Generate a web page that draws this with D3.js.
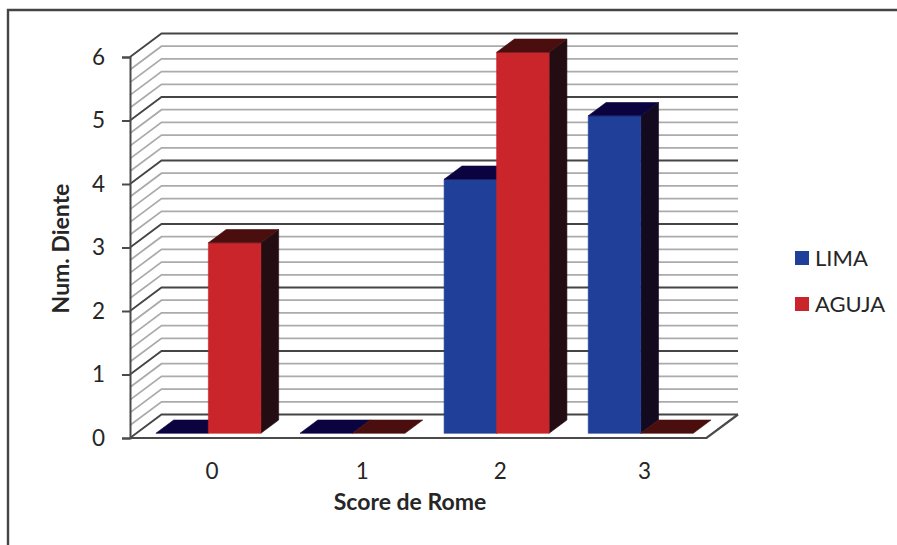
<!DOCTYPE html>
<html>
<head>
<meta charset="utf-8">
<script src="https://cdn.jsdelivr.net/npm/d3@7/dist/d3.min.js"></script>
<style>
  html, body { margin: 0; padding: 0; background: #fff; }
  svg { display: block; font-family: Lato, "Open Sans", sans-serif; }
</style>
</head>
<body>
<svg id="chart" width="897" height="545"></svg>
<script>
// Chart data
const categories = ["0", "1", "2", "3"];
const lima = [0, 0, 4, 5];
const aguja = [3, 0, 6, 0];
const seriesNames = ["LIMA", "AGUJA"];
const yTicks = [0, 1, 2, 3, 4, 5, 6];
const minorPerUnit = 5;
const xTitle = "Score de Rome";
const yTitle = "Num. Diente";

const palette = {
  LIMA: { front: "#1f3f98", top: "#0b0340", side: "#140a1f" },
  AGUJA: { front: "#c9252b", top: "#4a0e0e", side: "#230d12" }
};
const gridMajor = "#454545", gridMinor = "#ababab", axisColor = "#4a4a4a";
const inkColor = "#262626";

const svg = d3.select("#chart");

// Outer frame, open on the right and bottom edges
svg.append("path")
  .attr("d", "M897,10 H8 V545")
  .attr("fill", "none").attr("stroke", "#444").attr("stroke-width", 2.4);

// Oblique projection: depth t runs from the front plane (0) to the back wall (1)
const depthX = 31.5, depthY = -23.5;
const x = d3.scaleBand().domain(categories).range([130, 706.5]);
const y = d3.scaleLinear().domain([0, 6]).range([438, 57]);
const project = (px, py, t) => [px + depthX * t, py + depthY * t];
const polyline = pts => "M" + pts.map(p => p.join(",")).join("L");

// Wall gridlines: five divisions per unit, the whole numbers darker
const gridValues = d3.range(0, yTicks[yTicks.length - 1] * minorPerUnit + 1).map(i => i / minorPerUnit);
const isMajor = v => Number.isInteger(v);
const grid = svg.append("g").attr("fill", "none");
gridValues.slice().sort((a, b) => isMajor(a) - isMajor(b)).forEach(v => {
  const a = [x.range()[0], y(v)];
  const b = project(a[0], a[1], 1);
  const c = [x.range()[1] + depthX, b[1]];
  grid.append("path")
    .attr("d", polyline([a, b, c]))
    .attr("stroke", isMajor(v) ? gridMajor : gridMinor)
    .attr("stroke-width", 1.8);
});

// Floor edges
const fr = [x.range()[1], y(0)];
grid.append("path")
  .attr("d", polyline([[x.range()[0], y(0)], fr, project(fr[0], fr[1], 1)]))
  .attr("stroke", axisColor).attr("stroke-width", 2.2);

// Value axis wall edge and ticks
const yAxis = d3.axisLeft(y).tickValues(yTicks).tickSize(8).tickPadding(17).tickFormat(d3.format("d"));
const yG = svg.append("g").attr("transform", `translate(${x.range()[0]},0)`).call(yAxis);
yG.select(".domain").attr("stroke", axisColor).attr("stroke-width", 2);
yG.selectAll(".tick line").attr("stroke", axisColor).attr("stroke-width", 2);
yG.selectAll("text").attr("font-size", 22.5).attr("font-family", "Lato").attr("fill", inkColor);

// Category labels
const xAxis = d3.axisBottom(x).tickSize(0).tickPadding(25);
const xG = svg.append("g").attr("transform", `translate(10,${y(0)})`).call(xAxis);
xG.select(".domain").remove();
xG.selectAll("text").attr("font-size", 22.5).attr("font-family", "Lato").attr("fill", inkColor);
xG.selectAll("text").filter(d => d === "1").attr("dx", 6);

// Bars stand between these two depths
const barNear = 0.2, barFar = 0.765;
const inner = d3.scaleBand().domain(seriesNames).range([0, 105]);
const pad = (x.bandwidth() - 105) / 2;

function drawBar(cat, name, value) {
  const c = palette[name];
  const left = x(cat) + pad + inner(name);
  const right = left + inner.bandwidth();
  const fy = y(value), by = y(0);
  const n = (px, py) => project(px, py, barNear);
  const f = (px, py) => project(px, py, barFar);
  const g = svg.append("g").attr("stroke-width", 0.6).attr("stroke-linejoin", "round");
  if (value > 0) {
    g.append("path").attr("d", polyline([n(right, fy), f(right, fy), f(right, by), n(right, by)]) + "Z")
      .attr("fill", c.side).attr("stroke", c.side);
    g.append("path").attr("d", polyline([n(left, fy), n(right, fy), n(right, by), n(left, by)]) + "Z")
      .attr("fill", c.front).attr("stroke", c.front);
  }
  g.append("path").attr("d", polyline([n(left, fy), f(left, fy), f(right, fy), n(right, fy)]) + "Z")
    .attr("fill", c.top).attr("stroke", c.top);
}

categories.forEach((cat, i) => {
  drawBar(cat, "LIMA", lima[i]);
  drawBar(cat, "AGUJA", aguja[i]);
});

// Axis titles
svg.append("text").attr("x", 410).attr("y", 510)
  .attr("text-anchor", "middle").attr("font-size", 23).attr("font-weight", 700)
  .attr("fill", inkColor).text(xTitle);
svg.append("text").attr("transform", "translate(69,248.5) rotate(-90)")
  .attr("text-anchor", "middle").attr("font-size", 23).attr("font-weight", 700)
  .attr("fill", inkColor).text(yTitle);

// Legend
const legendY = d3.scalePoint().domain(seriesNames).range([258, 304]);
const legend = svg.append("g").selectAll("g").data(seriesNames).join("g")
  .attr("transform", d => `translate(795,${legendY(d)})`);
legend.append("rect").attr("y", -7).attr("width", 14).attr("height", 14)
  .attr("fill", d => palette[d].front);
legend.append("text").attr("x", 20).attr("dy", "0.36em")
  .attr("font-size", 22).attr("fill", inkColor).text(d => d);
</script>
</body>
</html>
